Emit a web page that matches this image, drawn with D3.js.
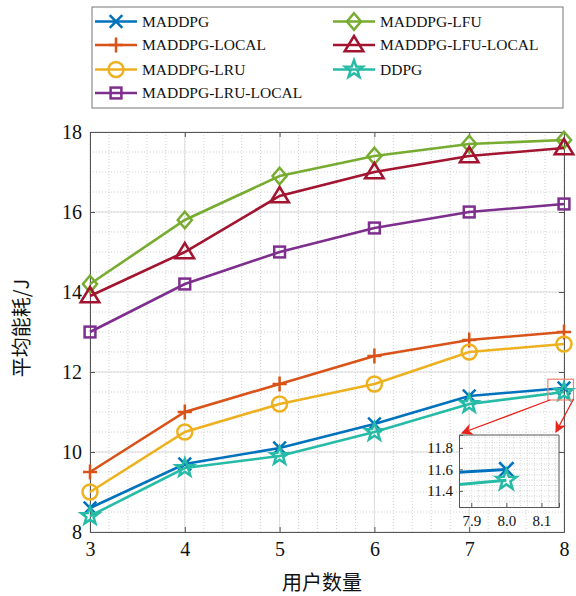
<!DOCTYPE html>
<html><head><meta charset="utf-8">
<script src="https://cdn.jsdelivr.net/npm/d3@7"></script>
<style>body{margin:0;background:#fff}</style>
</head><body>
<svg id="c" width="576" height="596"></svg>
<script>
const users = [3, 4, 5, 6, 7, 8];
const seriesNames = ["MADDPG", "MADDPG-LOCAL", "MADDPG-LRU", "MADDPG-LRU-LOCAL", "MADDPG-LFU", "MADDPG-LFU-LOCAL", "DDPG"];
const maddpg = [8.6, 9.7, 10.1, 10.7, 11.4, 11.6];
const maddpgLocal = [9.5, 11.0, 11.7, 12.4, 12.8, 13.0];
const maddpgLru = [9.0, 10.5, 11.2, 11.7, 12.5, 12.7];
const maddpgLruLocal = [13.0, 14.2, 15.0, 15.6, 16.0, 16.2];
const maddpgLfu = [14.2, 15.8, 16.9, 17.4, 17.7, 17.8];
const maddpgLfuLocal = [13.9, 15.0, 16.4, 17.0, 17.4, 17.6];
const ddpg = [8.4, 9.6, 9.9, 10.5, 11.2, 11.5];
const yTicks = [8, 10, 12, 14, 16, 18];
const insetXTicks = [7.9, 8.0, 8.1];
const insetYTicks = [11.4, 11.6, 11.8];
const xLabel = "用户数量";
const yLabel = "平均能耗/J";

const colors = ["#0072BD", "#D95319", "#EDB120", "#7E2F8E", "#77AC30", "#A2142F", "#26BBA6"];
const markers = ["x", "plus", "circle", "square", "diamond", "triangle", "star"];
const values = [maddpg, maddpgLocal, maddpgLru, maddpgLruLocal, maddpgLfu, maddpgLfuLocal, ddpg];
const series = seriesNames.map((n, i) => ({name: n, color: colors[i], marker: markers[i], vals: values[i]}));

const svg = d3.select("#c");
const serif = "'Liberation Serif','Tinos','Times New Roman','DejaVu Serif',serif";
const cjk = "'Noto Sans CJK SC',sans-serif";

const L = 90, R = 564, T = 132, B = 532;
const x = d3.scaleLinear().domain([3, 8]).range([L, R]);
const y = d3.scaleLinear().domain([8, 18]).range([B, T]);

function markerPath(g, type, size, color, cx, cy) {
  const s = size;
  if (type === "x") {
    g.append("path").attr("d", `M${cx-s*0.42},${cy-s*0.42}L${cx+s*0.42},${cy+s*0.42}M${cx-s*0.42},${cy+s*0.42}L${cx+s*0.42},${cy-s*0.42}`)
      .attr("stroke", color).attr("stroke-width", 2.5).attr("fill", "none");
  } else if (type === "plus") {
    g.append("path").attr("d", `M${cx-s*0.47},${cy}L${cx+s*0.47},${cy}M${cx},${cy-s*0.5}L${cx},${cy+s*0.5}`)
      .attr("stroke", color).attr("stroke-width", 2.5).attr("fill", "none");
  } else if (type === "circle") {
    g.append("circle").attr("cx", cx).attr("cy", cy).attr("r", s*0.5).attr("stroke", color).attr("stroke-width", 2.5).attr("fill", "none");
  } else if (type === "square") {
    g.append("rect").attr("x", cx-s*0.36).attr("y", cy-s*0.36).attr("width", s*0.72).attr("height", s*0.72)
      .attr("stroke", color).attr("stroke-width", 2.5).attr("fill", "none");
  } else if (type === "diamond") {
    g.append("path").attr("d", `M${cx},${cy-s*0.55}L${cx+s*0.47},${cy}L${cx},${cy+s*0.55}L${cx-s*0.47},${cy}Z`)
      .attr("stroke", color).attr("stroke-width", 2.5).attr("fill", "none");
  } else if (type === "triangle") {
    g.append("path").attr("d", `M${cx},${cy-s*0.6}L${cx+s*0.62},${cy+s*0.42}L${cx-s*0.62},${cy+s*0.42}Z`)
      .attr("stroke", color).attr("stroke-width", 2.5).attr("fill", "none");
  } else if (type === "star") {
    const pts = [];
    for (let k = 0; k < 10; k++) {
      const r = k % 2 === 0 ? s*0.62 : s*0.25;
      const a = -Math.PI/2 + k*Math.PI/5;
      pts.push([cx + r*Math.cos(a), cy + r*Math.sin(a)]);
    }
    g.append("path").attr("d", "M" + pts.map(p => p.join(",")).join("L") + "Z")
      .attr("stroke", color).attr("stroke-width", 2.5).attr("fill", "none").attr("stroke-linejoin", "miter");
  }
}

// grid
const grid = svg.append("g");
const xMinor = d3.range(3, 8.0001, 0.2);
const yMinor = d3.range(8, 18.0001, 0.5);
xMinor.forEach(v => grid.append("line").attr("x1", x(v)).attr("x2", x(v)).attr("y1", T).attr("y2", B)
  .attr("stroke", "#c4c4c4").attr("stroke-width", 0.8).attr("stroke-dasharray", "1,2"));
yMinor.forEach(v => grid.append("line").attr("x1", L).attr("x2", R).attr("y1", y(v)).attr("y2", y(v))
  .attr("stroke", "#c4c4c4").attr("stroke-width", 0.8).attr("stroke-dasharray", "1,2"));
users.forEach(v => grid.append("line").attr("x1", x(v)).attr("x2", x(v)).attr("y1", T).attr("y2", B)
  .attr("stroke", "#dcdcdc").attr("stroke-width", 1));
yTicks.forEach(v => grid.append("line").attr("x1", L).attr("x2", R).attr("y1", y(v)).attr("y2", y(v))
  .attr("stroke", "#dcdcdc").attr("stroke-width", 1));

// axes
const xAxis = d3.axisBottom(x).tickValues(users).tickSize(-5).tickPadding(10).tickFormat(d3.format("d"));
const yAxis = d3.axisLeft(y).tickValues(yTicks).tickSize(-5).tickPadding(8).tickFormat(d3.format("d"));
const gx = svg.append("g").attr("transform", `translate(0,${B})`).call(xAxis);
const gy = svg.append("g").attr("transform", `translate(${L},0)`).call(yAxis);
[gx, gy].forEach(g => {
  g.attr("font-family", serif);
  g.selectAll("text").style("font-family", serif).attr("font-size", 20).attr("fill", "#111");
  g.selectAll("line").attr("stroke", "#555");
  g.select(".domain").attr("stroke", "#555");
});
svg.append("g").attr("transform", `translate(0,${T})`).call(d3.axisTop(x).tickValues(users).tickSize(-5).tickFormat(""))
  .call(g => { g.selectAll("line").attr("stroke", "#555"); g.select(".domain").attr("stroke", "#555"); });
svg.append("g").attr("transform", `translate(${R},0)`).call(d3.axisRight(y).tickValues(yTicks).tickSize(-5).tickFormat(""))
  .call(g => { g.selectAll("line").attr("stroke", "#555"); g.select(".domain").attr("stroke", "#555"); });

// lines
const line = d3.line().x((d, i) => x(users[i])).y(d => y(d));
series.forEach(s => {
  svg.append("path").datum(s.vals).attr("d", line).attr("fill", "none").attr("stroke", s.color).attr("stroke-width", 2.6);
  const mg = svg.append("g");
  s.vals.forEach((v, i) => markerPath(mg, s.marker, 15, s.color, x(users[i]), y(v)));
});

// axis titles
svg.append("text").attr("x", 322).attr("y", 590).attr("text-anchor", "middle")
  .style("font-family", cjk).attr("font-size", 20).attr("fill", "#111").text(xLabel);
svg.append("text").attr("transform", `translate(29,${(T+B)/2 - 4}) rotate(-90)`).attr("text-anchor", "middle")
  .style("font-family", cjk).attr("font-size", 20).attr("fill", "#111").text(yLabel);

// zoom rectangle and arrows
const zx0 = 7.83, zx1 = 8.1, zy0 = 11.3, zy1 = 11.82;
svg.append("rect").attr("x", x(zx0)).attr("y", y(zy1)).attr("width", x(zx1)-x(zx0)).attr("height", y(zy0)-y(zy1))
  .attr("fill", "none").attr("stroke", "#f08070").attr("stroke-width", 1.2);

// inset
const IL = 459, IR = 559, IT = 435, IB = 507;
const ix = d3.scaleLinear().domain([7.865, 8.15]).range([IL, IR]);
const iy = d3.scaleLinear().domain([11.25, 11.92]).range([IB, IT]);
const ins = svg.append("g");
ins.append("rect").attr("x", IL).attr("y", IT).attr("width", IR-IL).attr("height", IB-IT).attr("fill", "#fff");
d3.range(7.9, 8.15, 0.02).forEach(v => ins.append("line").attr("x1", ix(v)).attr("x2", ix(v)).attr("y1", IT).attr("y2", IB)
  .attr("stroke", "#c4c4c4").attr("stroke-width", 0.7).attr("stroke-dasharray", "1,1.5"));
d3.range(11.3, 11.92, 0.05).forEach(v => ins.append("line").attr("x1", IL).attr("x2", IR).attr("y1", iy(v)).attr("y2", iy(v))
  .attr("stroke", "#c4c4c4").attr("stroke-width", 0.7).attr("stroke-dasharray", "1,1.5"));
svg.append("clipPath").attr("id", "ic").append("rect").attr("x", IL).attr("y", IT).attr("width", IR-IL).attr("height", IB-IT);
const insData = svg.append("g").attr("clip-path", "url(#ic)");
const iline = d3.line().x((d, i) => ix(users[i])).y(d => iy(d));
[series[0], series[6]].forEach(s => {
  insData.append("path").datum(s.vals).attr("d", iline).attr("fill", "none").attr("stroke", s.color).attr("stroke-width", 3);
  markerPath(insData, s.marker, 17, s.color, ix(8), iy(s.vals[5]));
});
const gix = svg.append("g").attr("transform", `translate(0,${IB})`).call(d3.axisBottom(ix).tickValues(insetXTicks).tickSize(-4).tickPadding(8).tickFormat(d3.format(".1f")));
const giy = svg.append("g").attr("transform", `translate(${IL},0)`).call(d3.axisLeft(iy).tickValues(insetYTicks).tickSize(-4).tickPadding(6).tickFormat(d3.format(".1f")));
[gix, giy].forEach(g => {
  g.attr("font-family", serif);
  g.selectAll("text").style("font-family", serif).attr("font-size", 15).attr("fill", "#111");
  g.selectAll("line").attr("stroke", "#555");
  g.select(".domain").attr("stroke", "#555");
});
svg.append("path").attr("d", `M${IL},${IT}H${IR}V${IB}`).attr("fill", "none").attr("stroke", "#555");

// arrows
const defs = svg.append("defs");
defs.append("marker").attr("id", "ah").attr("viewBox", "0 0 10 10").attr("refX", 9).attr("refY", 5)
  .attr("markerWidth", 9).attr("markerHeight", 9).attr("orient", "auto")
  .append("path").attr("d", "M0,0L10,5L0,10L3,5Z").attr("fill", "#e8231b");
svg.append("line").attr("x1", x(zx0)+2).attr("y1", y(zy0)).attr("x2", IL+3).attr("y2", IT-2)
  .attr("stroke", "#e8231b").attr("stroke-width", 1.3).attr("marker-end", "url(#ah)");
svg.append("line").attr("x1", x(zx1)).attr("y1", y(zy0)-1).attr("x2", IR-3).attr("y2", IT-3)
  .attr("stroke", "#e8231b").attr("stroke-width", 1.3).attr("marker-end", "url(#ah)");

// legend
const lg = svg.append("g");
lg.append("rect").attr("x", 92).attr("y", 7).attr("width", 471).attr("height", 101)
  .attr("fill", "#fff").attr("stroke", "#777").attr("stroke-width", 1);
const legPos = [[95, 21.5], [95, 45], [95, 69.5], [95, 93], [333, 21.5], [333, 45], [333, 69.5]];
series.forEach((s, k) => {
  const [lx, ly] = legPos[k];
  lg.append("line").attr("x1", lx).attr("x2", lx+42).attr("y1", ly).attr("y2", ly).attr("stroke", s.color).attr("stroke-width", 2.6);
  markerPath(lg, s.marker, 15, s.color, lx+21, ly);
  lg.append("text").attr("x", lx+47).attr("y", ly).attr("dy", "0.35em").style("font-family", serif)
    .attr("font-size", 15.5).attr("fill", "#111").text(s.name);
});
</script>
</body></html>
